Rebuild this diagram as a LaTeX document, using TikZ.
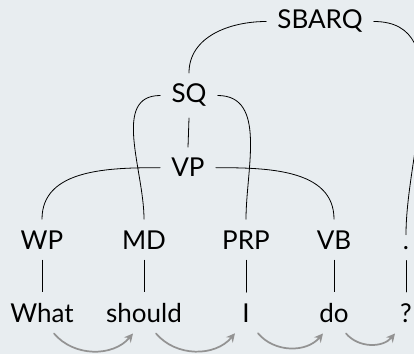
\documentclass[tikz,border=0pt]{standalone}
\usepackage{fontspec}
\setmainfont{Lato}
\usetikzlibrary{arrows.meta}
\definecolor{paper}{HTML}{E8EDF0}
\definecolor{flowgray}{HTML}{939393}

\begin{document}
\begin{tikzpicture}[x=0.75pt,y=0.75pt,line cap=round,line join=round,
    lbl/.style={anchor=base,inner sep=8.25pt,font=\fontsize{19.5}{22}\selectfont},
    edge/.style={draw,line width=0.6pt},
    flow/.style={draw=flowgray,line width=1.3pt,-{Stealth[length=6.5pt,width=6.5pt]},bend right=50}]
  \useasboundingbox (0,0) rectangle (414,354);
  \fill[paper] (0,0) rectangle (414,354);
  \clip (0,0) rectangle (414,354);
  % phrases
  \node[lbl] (sbarq) at (320,325) {SBARQ};
  \node[lbl] (sq) at (189,251) {SQ};
  \node[lbl] (vp) at (188,177) {VP};
  % tags
  \node[lbl] (wp) at (42,105) {WP};
  \node[lbl] (md) at (144,105) {MD};
  \node[lbl] (prp) at (246,105) {PRP};
  \node[lbl] (vb) at (334,105) {VB};
  \node[lbl] (dot) at (406,105) {.};
  % words
  \node[lbl] (what) at (42,32) {What};
  \node[lbl] (should) at (144,32) {should};
  \node[lbl] (i) at (246,32) {I};
  \node[lbl] (do) at (334,32) {do};
  \node[lbl] (qmark) at (406,32) {?};
  % tree edges
  \draw[edge] (sbarq.west) to[out=180,in=90] (sq.north);
  \draw[edge] (sbarq.east) to[out=0,in=90] (dot.north);
  \draw[edge] (sq.west) to[out=180,in=90] (md.north);
  \draw[edge] (sq.east) to[out=0,in=90] (prp.north);
  \draw[edge] (sq.south) -- (vp.north);
  \draw[edge] (vp.west) to[out=180,in=90] (wp.north);
  \draw[edge] (vp.east) to[out=0,in=90] (vb.north);
  \foreach \t/\w in {wp/what,md/should,prp/i,vb/do,dot/qmark}
    \draw[edge] (\t.south) -- (\w.north);
  % word order
  \foreach \a/\b in {what/should,should/i,i/do,do/qmark}
    \draw[flow] ([xshift=9pt]\a.south) to ([xshift=-8.25pt]\b.south);
\end{tikzpicture}
\end{document}
